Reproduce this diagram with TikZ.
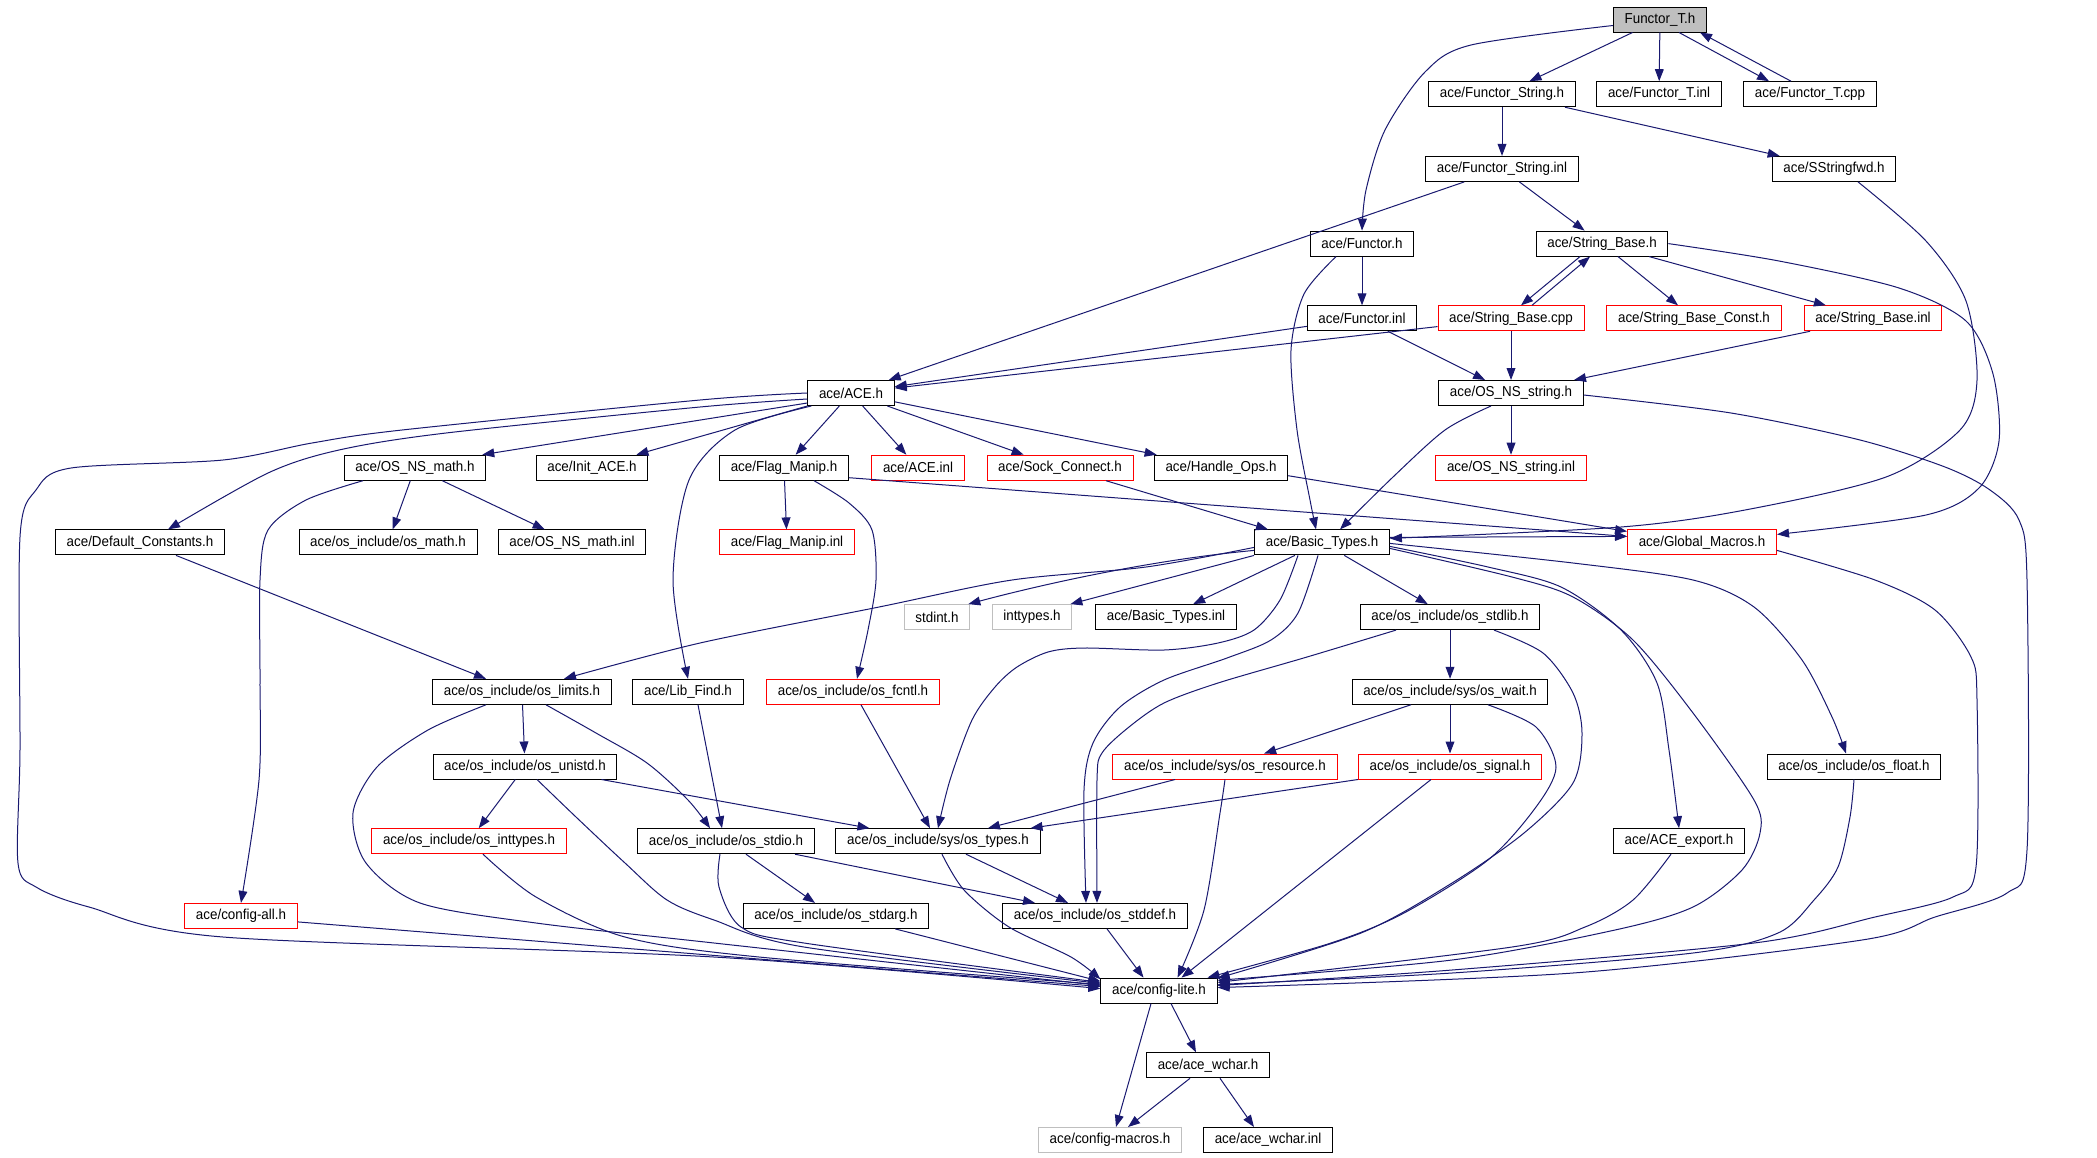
\documentclass[tikz,border=0pt]{standalone}
\usepackage{fontspec}
\setmainfont{Liberation Sans}[FakeStretch=0.93]
\usetikzlibrary{arrows.meta}

\definecolor{depblue}{RGB}{25,25,112}
\definecolor{rootgray}{RGB}{191,191,191}

\begin{document}
\begin{tikzpicture}[x=0.5pt,y=-0.5pt,
    file/.style={draw=black,line width=0.5pt,font=\fontsize{7.2}{8}\selectfont,
        minimum height=12.5pt,inner xsep=5.6pt,inner ysep=0pt},
    redfile/.style={file,draw=red},
    grayfile/.style={file,draw=rootgray},
    dep/.style={depblue,line width=0.5pt,-{Triangle[length=6pt,width=4.4pt]}}]

    \path [use as bounding box,fill=white] (0,0) rectangle (2097,1157);

    % files, row by row
    \node [file,fill=rootgray] (fth) at (1660,19.5) {Functor\_T.h};

    \node [file] (fsh) at (1502,94.2) {ace/Functor\_String.h};
    \node [file] (fti) at (1659,94.2) {ace/Functor\_T.inl};
    \node [file] (ftc) at (1810,94.2) {ace/Functor\_T.cpp};

    \node [file] (fsi) at (1502,168.9) {ace/Functor\_String.inl};
    \node [file] (ssf) at (1834,168.9) {ace/SStringfwd.h};

    \node [file] (fnh) at (1362,243.6) {ace/Functor.h};
    \node [file] (sbh) at (1602,243.6) {ace/String\_Base.h};

    \node [file]    (fni) at (1362,318.3) {ace/Functor.inl};
    \node [redfile] (sbc) at (1511,318.3) {ace/String\_Base.cpp};
    \node [redfile] (sbk) at (1694,318.3) {ace/String\_Base\_Const.h};
    \node [redfile] (sbi) at (1873,318.3) {ace/String\_Base.inl};

    \node [file] (aceh) at (851,393) {ace/ACE.h};
    \node [file] (osns) at (1511,393) {ace/OS\_NS\_string.h};

    \node [file]    (osnm)  at (415,467.7)  {ace/OS\_NS\_math.h};
    \node [file]    (init)  at (592,467.7)  {ace/Init\_ACE.h};
    \node [file]    (flag)  at (784,467.7)  {ace/Flag\_Manip.h};
    \node [redfile] (acei)  at (918,467.7)  {ace/ACE.inl};
    \node [redfile] (sock)  at (1060,467.7) {ace/Sock\_Connect.h};
    \node [file]    (hops)  at (1221,467.7) {ace/Handle\_Ops.h};
    \node [redfile] (osnsi) at (1511,467.7) {ace/OS\_NS\_string.inl};

    \node [file]    (dcon)   at (140,542.4)  {ace/Default\_Constants.h};
    \node [file]    (osmath) at (388,542.4)  {ace/os\_include/os\_math.h};
    \node [file]    (osnmi)  at (572,542.4)  {ace/OS\_NS\_math.inl};
    \node [redfile] (flagi)  at (787,542.4)  {ace/Flag\_Manip.inl};
    \node [file]    (btb)    at (1322,542.4) {ace/Basic\_Types.h};
    \node [redfile] (gmac)   at (1702,542.4) {ace/Global\_Macros.h};

    \node [grayfile] (stdint)   at (937,617.1)  {stdint.h};
    \node [grayfile] (inttypes) at (1032,617.1) {inttypes.h};
    \node [file]     (bti)      at (1166,617.1) {ace/Basic\_Types.inl};
    \node [file]     (stdlib)   at (1450,617.1) {ace/os\_include/os\_stdlib.h};

    \node [file]    (limits)  at (522,691.8)  {ace/os\_include/os\_limits.h};
    \node [file]    (libfind) at (688,691.8)  {ace/Lib\_Find.h};
    \node [redfile] (fcntl)   at (853,691.8)  {ace/os\_include/os\_fcntl.h};
    \node [file]    (wait)    at (1450,691.8) {ace/os\_include/sys/os\_wait.h};

    \node [file]    (unistd)   at (525,766.5)  {ace/os\_include/os\_unistd.h};
    \node [redfile] (resource) at (1225,766.5) {ace/os\_include/sys/os\_resource.h};
    \node [redfile] (signal)   at (1450,766.5) {ace/os\_include/os\_signal.h};
    \node [file]    (float)    at (1854,766.5) {ace/os\_include/os\_float.h};

    \node [redfile] (inttyp) at (469,841.2)  {ace/os\_include/os\_inttypes.h};
    \node [file]    (stdio)  at (726,841.2)  {ace/os\_include/os\_stdio.h};
    \node [file]    (types)  at (938,841.2)  {ace/os\_include/sys/os\_types.h};
    \node [file]    (export) at (1679,841.2) {ace/ACE\_export.h};

    \node [redfile] (cfgall) at (241,915.9)  {ace/config-all.h};
    \node [file]    (stdarg) at (836,915.9)  {ace/os\_include/os\_stdarg.h};
    \node [file]    (stddef) at (1095,915.9) {ace/os\_include/os\_stddef.h};

    \node [file] (clite) at (1159,990.6) {ace/config-lite.h};
    \node [file] (wchar) at (1208,1065.3) {ace/ace\_wchar.h};
    \node [grayfile] (macros) at (1110,1140) {ace/config-macros.h};
    \node [file]     (wcinl)  at (1268,1140) {ace/ace\_wchar.inl};

    % straight dependencies, centre to centre
    \foreach \a/\b in {fth/fsh,fth/fti,fsh/fsi,fsi/sbh,fsi/aceh,sbh/sbk,sbh/sbi,
        fnh/fni,fni/aceh,fni/osns,sbc/aceh,sbc/osns,sbi/osns,osns/osnsi,
        aceh/flag,aceh/acei,aceh/sock,aceh/hops,osnm/osmath,osnm/osnmi,
        flag/flagi,btb/bti,btb/stdlib,stdlib/wait,wait/resource,wait/signal,
        resource/types,limits/unistd,unistd/inttyp}
        \draw [dep] (\a) -- (\b);

    % straight ones off centre
    \draw [dep] ([xshift=9.5pt]fth.south) -- ([xshift=-20.5pt]ftc.north);
    \draw [dep] ([xshift=-9.5pt]ftc.north) -- ([xshift=20pt]fth.south);
    \draw [dep] ([xshift=-5.5pt]fsh.south east) -- ([xshift=4pt]ssf.north west);
    \draw [dep] ([xshift=-11pt]sbh.south) -- ([xshift=5pt]sbc.north);
    \draw [dep] ([xshift=10.5pt]sbc.north) -- ([xshift=-6pt]sbh.south);
    \draw [dep] ([yshift=-5pt]aceh.west) -- ([xshift=-2pt]osnm.north east);
    \draw [dep] (aceh.south west) -- ([xshift=-6pt]init.north east);
    \draw [dep] ([yshift=-5pt]flag.east) -- ([yshift=3pt]gmac.west);
    \draw [dep] ([xshift=23pt]sock.south) -- ([xshift=-27pt]btb.north);
    \draw [dep] ([yshift=-4pt]hops.east) -- ([yshift=-1pt]gmac.north west);
    \draw [dep] ([yshift=2.5pt]btb.east) -- ([yshift=3pt]gmac.west);
    \draw [dep] ([xshift=18pt]dcon.south) -- ([xshift=-18pt]limits.north);
    \draw [dep] ([yshift=-4pt]btb.west) .. controls (1150,560) and (1040,585) .. ([xshift=-1pt]stdint.north east);
    \draw [dep] (btb.south west) -- ([xshift=-1pt]inttypes.north east);
    \draw [dep] ([xshift=5pt]libfind.south) -- ([xshift=-2pt]stdio.north);
    \draw [dep] ([xshift=4pt]fcntl.south) -- ([xshift=-4pt]types.north);
    \draw [dep] ([xshift=-8pt]unistd.south east) -- ([xshift=17pt]types.north west);
    \draw [dep] (signal.south west) -- ([xshift=-5pt]types.north east);
    \draw [dep] ([xshift=-9.5pt]signal.south) -- (clite.30);
    \draw [dep] ([xshift=10pt]stdio.south) -- ([xshift=-10.5pt]stdarg.north);
    \draw [dep] ([xshift=34.5pt]stdio.south) -- ([xshift=-30pt]stddef.north);
    \draw [dep] ([xshift=14pt]types.south) -- ([xshift=-13.5pt]stddef.north);
    \draw [dep] ([yshift=-3pt]cfgall.east) -- (clite.176);
    \draw [dep] ([xshift=-17pt]stdarg.south east) -- (clite.171);
    \draw [dep] ([xshift=6pt]stddef.south) -- (clite.140);
    \draw [dep] ([xshift=6pt]clite.south) -- ([xshift=-6pt]wchar.north);
    \draw [dep] ([xshift=-4pt]clite.south) -- ([xshift=3pt]macros.north);
    \draw [dep] ([xshift=-9pt]wchar.south) -- ([xshift=9pt]macros.north);
    \draw [dep] ([xshift=6pt]wchar.south) -- ([xshift=-7pt]wcinl.north);

    % curved ones
    \draw [dep] plot [smooth] coordinates {([yshift=-3pt]fth.west) (1471,45) (1425,72) (1385,130) (1366,190) (fnh.north)};
    \draw [dep] plot [smooth] coordinates {([xshift=-13pt]fnh.south) (1304,294) (1291,350) (1297,430) (1310,500) ([xshift=-3pt]btb.north)};
    \draw [dep] plot [smooth] coordinates {([xshift=-10pt]osns.south) (1445,430) (1393,477) ([xshift=9pt]btb.north)};
    \draw [dep] plot [smooth] coordinates {([xshift=12pt]ssf.south) (1926,241) (1966,301) (1977,380) (1960,430) (1886,477) (1745,510) (1621,527) ([yshift=2pt]btb.east)};
    \draw [dep] plot [smooth] coordinates {(sbh.east) (1779,261) (1899,288) (1966,321) (1993,374) (1999,441) (1979,488) (1926,515) ([yshift=4pt]gmac.east)};
    \draw [dep] plot [smooth] coordinates {([yshift=-1pt]osns.east) (1731,413) (1860,440) (1945,467) (1990,490) (2019,520) (2027,580) (2027,850) (2007,893) (1935,917) (1862,940) (1573,973) (clite.3)};
    \draw [dep] plot [smooth] coordinates {([yshift=-4pt]gmac.east) (1875,580) (1935,610) (1971,657) (1977,700) (1976,867) (1953,897) (1875,917) (1754,943) (1452,970) (clite.5)};
    \draw [dep] plot [smooth] coordinates {(float.south) (1850,817) (1838,867) (1814,900) (1778,933) (1693,953) (1452,973) (clite.6)};
    \draw [dep] plot [smooth] coordinates {([xshift=-4pt]export.south) (1633,900) (1585,927) (1512,947) (clite.8)};
    \draw [dep] plot [smooth] coordinates {([yshift=-3pt]btb.east) (1512,577) (1573,597) (1633,640) (1693,713) (1754,800) (1760,833) (1742,870) (1693,907) (1615,930) (1452,960) (clite.10)};
    \draw [dep] plot [smooth] coordinates {([yshift=-2pt]btb.east) (1488,567) (1561,587) (1621,630) (1657,683) (1669,750) (export.north)};
    \draw [dep] plot [smooth] coordinates {([yshift=-0.5pt]btb.east) (1573,563) (1693,580) (1754,607) (1802,660) (1832,717) ([xshift=-4pt]float.north)};
    \draw [dep] plot [smooth] coordinates {([xshift=22pt]stdlib.south) (1543,653) (1573,693) (1582,733) (1573,783) (1524,833) (1452,883) (1361,933) (clite.12)};
    \draw [dep] plot [smooth] coordinates {([xshift=19pt]wait.south) (1536,727) (1556,767) (1536,807) (1488,860) (1404,913) (1331,943) (clite.15)};
    \draw [dep] plot [smooth] coordinates {(resource.south) (1220,813) (1204,910) (clite.35)};
    \draw [dep] plot [smooth] coordinates {([xshift=-27pt]stdlib.south) (1307,657) (1218,683) (1164,703) (1129,727) (1102,753) (1097,780) ([xshift=1pt]stddef.north)};
    \draw [dep] plot [smooth] coordinates {([xshift=-2pt]btb.south) (1298,613) (1271,640) (1227,658) (1164,680) (1120,707) (1093,743) (1084,790) ([xshift=-4.5pt]stddef.north)};
    \draw [dep] plot [smooth] coordinates {([xshift=-12pt]btb.south) (1280,600) (1254,630) (1218,643) (1164,650) (1084,648) (1048,652) (1017,667) (995,687) (972,720) (950,780) (types.north)};
    \draw [dep] plot [smooth] coordinates {([yshift=-2.5pt]btb.west) (1146,567) (1012,580) (879,607) (700,643) ([xshift=21pt]limits.north)};

    \draw [dep] plot [smooth] coordinates {(aceh.west) (700,400) (402,430) (312,443) (223,460) (71,468) (36,490) (20,537) (20,750) (18,863) (36,887) (89,907) (223,937) (714,957) (clite.178)};
    \draw [dep] plot [smooth] coordinates {([yshift=-3pt]aceh.west) (700,407) (446,433) (339,450) (268,473) ([xshift=14pt]dcon.north)};
    \draw [dep] plot [smooth] coordinates {([xshift=2pt]aceh.south west) (735,430) (689,480) (673,580) (libfind.north)};
    \draw [dep] plot [smooth] coordinates {([xshift=-26pt]osnm.south) (306,500) (268,530) (260,580) (260,680) (259,780) (cfgall.north)};
    \draw [dep] plot [smooth] coordinates {([xshift=15pt]flag.south) (849,503) (872,530) (876,580) (868,630) ([xshift=2pt]fcntl.north)};

    \draw [dep] plot [smooth] coordinates {([xshift=-18pt]limits.south) (428,730) (377,767) (353,813) (366,863) (420,903) (536,923) (714,943) (clite.175)};
    \draw [dep] plot [smooth] coordinates {([xshift=12pt]limits.south) (596,733) (647,763) (688,800) ([xshift=-8pt]stdio.north)};
    \draw [dep] plot [smooth] coordinates {([xshift=6pt]unistd.south) (576,817) (625,863) (667,900) (714,920) (804,947) (clite.173)};
    \draw [dep] plot [smooth] coordinates {([xshift=7pt]inttyp.south) (536,897) (625,937) (759,957) (clite.174)};
    \draw [dep] plot [smooth] coordinates {([xshift=-3pt]stdio.south) (719,887) (741,927) (804,943) (clite.172)};
    \draw [dep] plot [smooth] coordinates {([xshift=2pt]types.south) (964,890) (1009,927) (1071,957) (clite.169)};
\end{tikzpicture}
\end{document}
